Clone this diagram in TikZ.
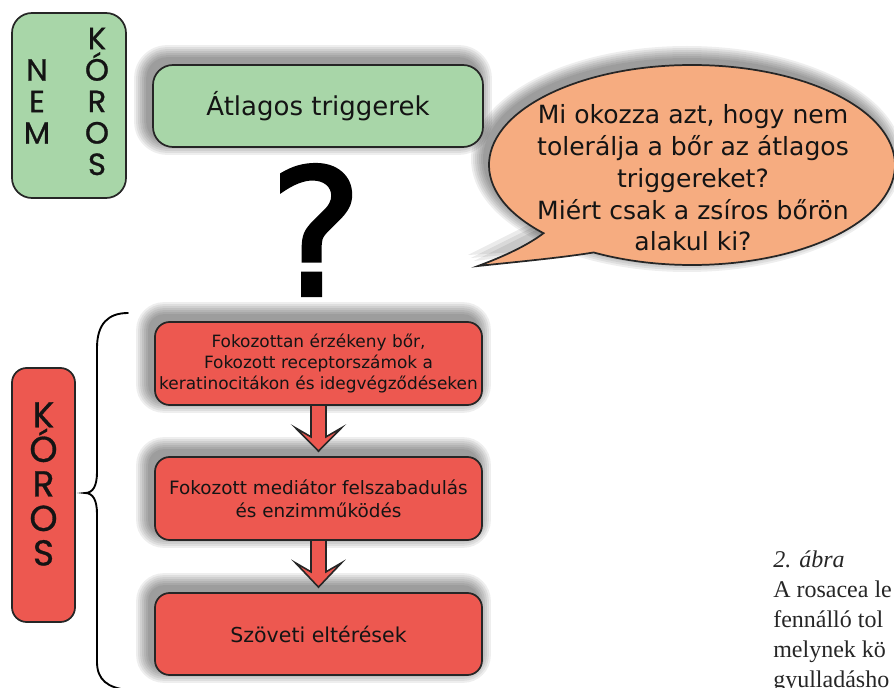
\documentclass[tikz,border=0pt]{standalone}
\usepackage{fontspec}
\setmainfont{DejaVu Sans}
\newfontfamily\geofont[FakeBold=0.8]{Poppins}
\newfontfamily\qmfont[FakeBold=2]{DejaVu Sans}
\newfontfamily\capfont{Liberation Serif}
\usetikzlibrary{calc}
\pgfdeclarelayer{bg}
\pgfsetlayers{bg,main}
\definecolor{boxgreen}{RGB}{168,214,168}
\definecolor{bubbleorange}{RGB}{246,172,128}
\definecolor{boxred}{RGB}{237,88,80}
\definecolor{ink}{RGB}{20,20,20}
\tikzset{
  gbox/.style={draw=black!85, line width=1.3pt, fill=boxgreen, rounded corners=15pt, inner sep=0pt, text=ink},
  rbox/.style={draw=black!85, line width=1.3pt, fill=boxred, rounded corners=11pt, inner sep=0pt, align=center, text=ink},
  bubble/.style={draw=black!85, line width=1.3pt, fill=bubbleorange},
  fatarrow/.style={draw=black!85, line width=1.2pt, fill=boxred, line join=miter},
  brace/.style={draw=black, line width=1.4pt, line cap=round},
  letters/.style={inner sep=0pt, align=center, text=ink},
  capline/.style={anchor=base west, inner sep=0pt, font=\capfont\fontsize{18}{21}\selectfont, text=black!85},
}
\newcommand\boxshadow[2]{%
  \foreach \i in {1,3,...,13}{%
    \fill[black,opacity=0.065,rounded corners={(#2+0.75*\i)*1pt}]
      ($(#1.north west)+(-5-\i,-6-\i)$) rectangle ($(#1.south east)+(-5+\i,-6+\i)$);
  }%
}
\begin{document}
\begin{tikzpicture}[x=0.75pt,y=-0.75pt]
\path[use as bounding box, clip] (0,0) rectangle (894,688);

% upper part
\node[gbox, minimum width=85.5pt, minimum height=138.75pt] (nembox) at (69,105.5) {};
\node[letters, font=\geofont\fontsize{23}{23.6}\selectfont] (nem) at (37,101.5) {N\\E\\M};
\node[letters, font=\geofont\fontsize{23}{23.6}\selectfont] (koros1) at (97,101.5) {K\\Ó\\R\\O\\S};

\node[gbox, minimum width=247.5pt, minimum height=61.5pt, font=\fontsize{19.5}{23}\selectfont] (trig) at (318,106) {Átlagos triggerek};

% speech bubble
\coordinate (bc) at (692,165);
\coordinate (tip) at (478,266);
\draw[bubble] ($(bc)+(223:152.25pt and 75pt)$) arc[start angle=223, end angle=-119, x radius=152.25pt, y radius=75pt]
   .. controls (560,258) and (515,262) .. (tip)
   .. controls (505,256) and (528,245) .. cycle;
\node[align=center, inner sep=0pt, text=ink, font=\fontsize{18.8}{23.8}\selectfont] (qtext) at (693,178)
  {Mi okozza azt, hogy nem\\tolerálja a bőr az átlagos\\triggereket?\\Miért csak a zsíros bőrön\\alakul ki?};

\node[inner sep=0pt, text=black, font=\qmfont\fontsize{132}{132}\selectfont] (qm) at (316,230) {?};

% lower part
\node[rbox, minimum width=47.25pt, minimum height=190.5pt] (korosbox) at (43.5,495) {};
\node[letters, font=\geofont\fontsize{27}{25.9}\selectfont] (koros2) at (43.5,484) {K\\Ó\\R\\O\\S};

\draw[brace] (128,313) .. controls (108,313) and (97,324) .. (97,348) -- (97,472)
  .. controls (97,486) and (93,493) .. (85,493)
  .. controls (93,493) and (97,500) .. (97,514) -- (97,662)
  .. controls (97,680) and (108,688) .. (128,690);

\node[rbox, minimum width=245.25pt, minimum height=62.25pt, font=\fontsize{12.7}{16}\selectfont] (b1) at (318.5,363.5)
  {Fokozottan érzékeny bőr,\\Fokozott receptorszámok a\\keratinocitákon és idegvégződéseken};
\node[rbox, minimum width=245.25pt, minimum height=62.25pt, font=\fontsize{13.8}{17.2}\selectfont] (b2) at (318.5,498.5)
  {Fokozott mediátor felszabadulás\\és enzimműködés};
\node[rbox, minimum width=245.25pt, minimum height=61.5pt, font=\fontsize{15.4}{18}\selectfont] (b3) at (318.5,634)
  {Szöveti eltérések};

% caption
\node[capline] (cap1) at (773,567) {\textit{2. ábra}};
\node[capline] (cap2) at (773,597) {A rosacea le};
\node[capline] (cap3) at (773,627) {fennálló tol};
\node[capline] (cap4) at (773,657) {melynek kö};
\node[capline] (cap5) at (773,687) {gyulladásho};

% shadows and arrows behind
\begin{pgfonlayer}{bg}
  \boxshadow{trig}{15}
  \boxshadow{b1}{11}
  \boxshadow{b2}{11}
  \boxshadow{b3}{11}
  \foreach \i in {1,3,...,13}{%
    \fill[black,opacity=0.065] ($(bc)+(-5,-6)$) ellipse [x radius={152.25pt+0.75pt*\i}, y radius={75pt+0.75pt*\i}];
  }
  \foreach \i in {0,3,6}{%
    \fill[black,opacity=0.08] ($(bc)+(223:152.25pt and 75pt)+(-4-\i,-5-\i)$) -- ($(tip)+(-4-\i,-5-\i)$) -- ($(bc)+(241:152.25pt and 75pt)+(-4,-5)$) -- cycle;
  }
  \foreach \a/\b in {b1/b2, b2/b3}{%
    \draw[fatarrow] ($(\a.south)+(-7.5,-2)$) -- ($(\a.south)+(-7.5,31)$) -- ($(\a.south)+(-23,22)$)
      -- ($(\b.north)+(0,-5)$) -- ($(\a.south)+(23,22)$) -- ($(\a.south)+(7.5,31)$) -- ($(\a.south)+(7.5,-2)$) -- cycle;
  }
\end{pgfonlayer}
\end{tikzpicture}
\end{document}
